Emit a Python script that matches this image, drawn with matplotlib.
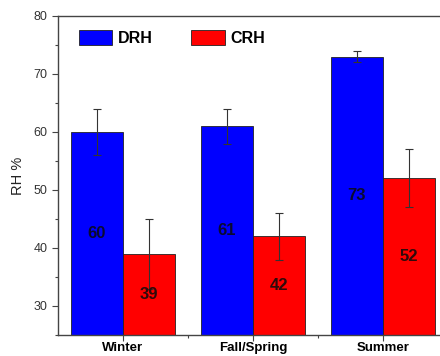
import numpy as np
import matplotlib
matplotlib.use('Agg')
from matplotlib import pyplot as plt

plt.rcParams['font.family'] = ['Liberation Sans', 'DejaVu Sans']

seasons = ['Winter', 'Fall/Spring', 'Summer']
drh = [60, 61, 73]
drh_err = [4, 3, 1]
crh = [39, 42, 52]
crh_err = [6, 4, 5]

ymin, ymax = 25, 80

fig = plt.figure(figsize=(4.4, 3.56), dpi=100)
ax = fig.add_axes([58/440, 21/356, 390/440, 319/356])

x = np.arange(len(seasons))
w = 0.4
ax.bar(x - w/2, drh, w, color='#0000ff', edgecolor='#222222', linewidth=0.6, label='DRH')
ax.bar(x + w/2, crh, w, color='#ff0000', edgecolor='#222222', linewidth=0.6, label='CRH')
ax.errorbar(x - w/2, drh, yerr=drh_err, fmt='none', ecolor='#333333', elinewidth=0.8, capsize=3, capthick=0.8)
ax.errorbar(x + w/2, crh, yerr=crh_err, fmt='none', ecolor='#333333', elinewidth=0.8, capsize=3, capthick=0.8)

# value labels in the middle of the visible part of each bar
for xi, v in zip(x - w/2, drh):
    ax.text(xi, (ymin + v) / 2, str(v), ha='center', va='center', fontsize=12, fontweight='heavy', color='#0a0a30')
for xi, v in zip(x + w/2, crh):
    ax.text(xi, (ymin + v) / 2, str(v), ha='center', va='center', fontsize=12, fontweight='heavy', color='#300a0a')

ax.set_xlim(-0.5, 2.5)
ax.set_ylim(ymin, ymax)
ax.set_yticks([30, 40, 50, 60, 70, 80])
ax.set_yticks(np.arange(25, 81, 5), minor=True)
ax.set_xticks(x)
ax.set_xticks([0.5, 1.5], minor=True)
ax.set_xticklabels(seasons, fontsize=9.5, fontweight='bold')
ax.tick_params(axis='y', labelsize=9, labelcolor='#333333', length=4, width=0.8, color='#444444')
ax.tick_params(axis='y', which='minor', length=2, width=0.8, color='#444444')
ax.tick_params(axis='x', length=4, width=0.8, color='#444444', pad=1)
ax.tick_params(axis='x', which='minor', length=2, width=0.8, color='#444444')
for s in ax.spines.values():
    s.set_color('#444444')
    s.set_linewidth(1.0)

ax.set_ylabel('RH %', fontsize=10.5, color='#222222', labelpad=6)

ax.legend(loc='upper left', ncol=2, frameon=False, prop={'size': 11.5, 'weight': 'bold'},
          handlelength=2.1, handleheight=1.05, handletextpad=0.35, columnspacing=2.4,
          bbox_to_anchor=(0.025, 0.99), borderaxespad=0.3)

fig.savefig('out.png', dpi=100)
